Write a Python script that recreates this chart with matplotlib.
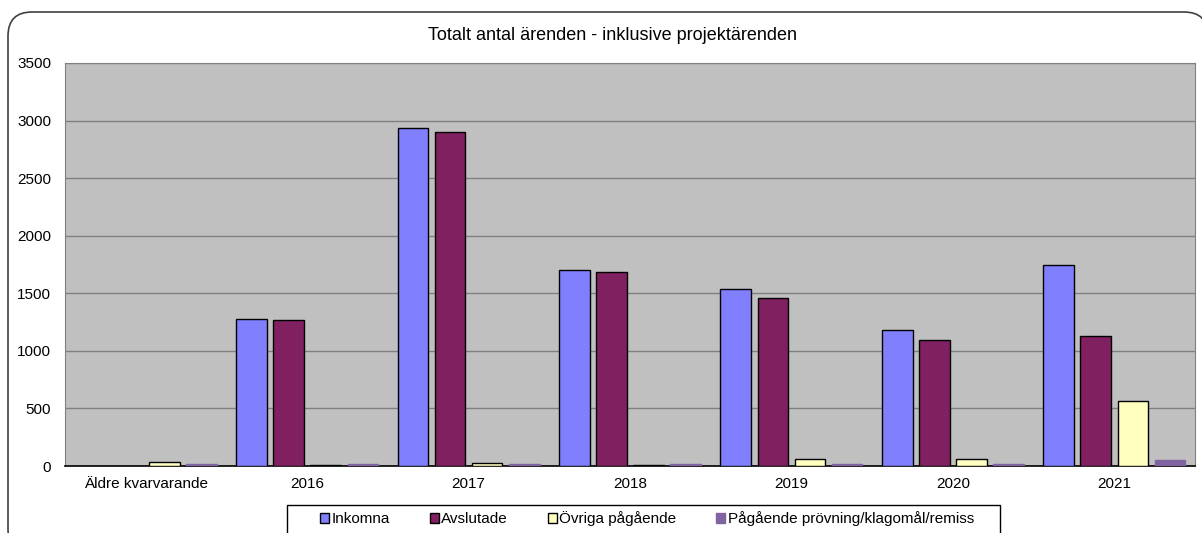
import numpy as np
import matplotlib.pyplot as plt
from matplotlib.patches import FancyBboxPatch, Rectangle

plt.rcParams['font.family'] = ['Liberation Sans', 'DejaVu Sans']

categories = ["Äldre kvarvarande", "2016", "2017", "2018", "2019", "2020", "2021"]
inkomna = [0, 1279, 2932, 1699, 1540, 1178, 1745]
avslutade = [0, 1270, 2898, 1689, 1462, 1094, 1129]
ovriga = [32, 12, 25, 12, 61, 61, 568]
pagaende = [15, 15, 15, 15, 15, 15, 55]
series_names = ["Inkomna", "Avslutade", "Övriga pågående", "Pågående prövning/klagomål/remiss"]

colors = ["#8080FF", "#802060", "#FFFFC0", "#8064A2"]
edges = ["#000000", "#000000", "#000000", "#8064A2"]

W, H = 1202, 533
fig = plt.figure(figsize=(W / 100, H / 100), dpi=100)

# outer rounded frame, behind everything
frame = FancyBboxPatch((8 / W, -20 / H), 1200 / W, (H - 12 + 20) / H,
                       boxstyle="round,pad=0,rounding_size=0.02",
                       transform=fig.transFigure, fc="white", ec="#404040", lw=1.2,
                       mutation_aspect=W / H, zorder=-10)
fig.patches.append(frame)

ax = fig.add_axes([65 / W, 1 - 466 / H, (1195 - 65) / W, (466 - 63) / H])
ax.set_facecolor("#C0C0C0")

x = np.arange(len(categories))
width = 0.19
step = 0.23
for i, (vals, name) in enumerate(zip([inkomna, avslutade, ovriga, pagaende], series_names)):
    # zero values are not drawn at all (no outline on the baseline)
    h = np.where(np.array(vals) == 0, np.nan, vals)
    ax.bar(x + (i - 1.5) * step, h, width, color=colors[i], edgecolor=edges[i],
           linewidth=1, label=name, zorder=3)

ax.set_xlim(-0.5, len(categories) - 0.5)
ax.set_ylim(0, 3500)
ax.set_yticks(np.arange(0, 3501, 500))
ax.set_xticks(x)
ax.set_xticklabels(categories)
ax.tick_params(length=0, labelsize=11, pad=8)
ax.tick_params(axis="y", pad=10)
ax.yaxis.grid(True, color="#808080", lw=1, zorder=1)
for s in ["top", "right", "left"]:
    ax.spines[s].set_color("#808080")
ax.spines["bottom"].set_color("black")
ax.spines["bottom"].set_linewidth(1.2)

fig.text(612 / W, 1 - 35 / H, "Totalt antal ärenden - inklusive projektärenden",
         ha="center", va="center", fontsize=13)

# legend box
fig.patches.append(Rectangle((287 / W, -10 / H), (1000 - 287) / W, (H - 505 + 10) / H,
                             transform=fig.transFigure, fc="white", ec="black", lw=1,
                             zorder=2))
handles, labels = ax.get_legend_handles_labels()
leg = fig.legend(handles, labels, loc="center", bbox_to_anchor=(647 / W, 1 - 519 / H),
                 ncol=4, frameon=False, handlelength=0.6, handleheight=0.6,
                 handletextpad=0.15, columnspacing=2.6, fontsize=11)
leg.set_zorder(3)

fig.savefig("out.png", dpi=100)
